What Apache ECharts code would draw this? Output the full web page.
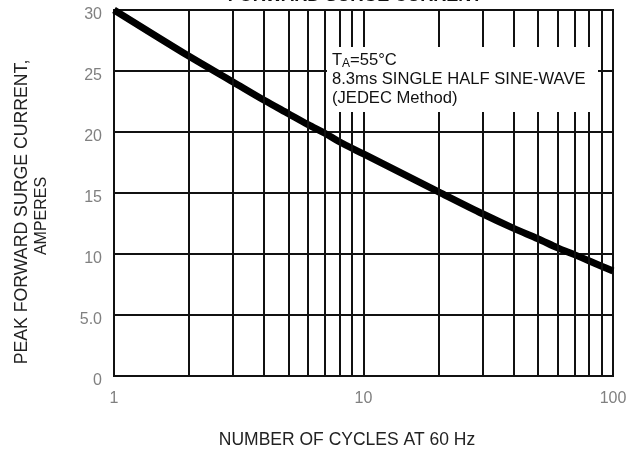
<!DOCTYPE html>
<html>
<head>
<meta charset="UTF-8">
<title>Forward Surge Current</title>
<script src="https://cdn.jsdelivr.net/npm/echarts@6/dist/echarts.min.js"></script>
<style>
  html, body { margin: 0; padding: 0; background: #fff; }
  #main { width: 632px; height: 454px; }
</style>
</head>
<body>
<div id="main"></div>
<script type="text/javascript">
    // cycles at 60 Hz and peak surge current (A)
    var cycles = [1, 2, 3, 4, 5, 6, 7, 8, 10, 20, 30, 40, 50, 60, 70, 80, 90, 100];
    var amps = [30, 26.2, 24.1, 22.6, 21.5, 20.6, 19.9, 19.2, 18.2, 15.1, 13.3, 12.1, 11.25, 10.5, 9.95, 9.45, 9.0, 8.6];
    // intermediate log grid lines
    var minorX = [2, 3, 4, 5, 6, 7, 8, 9, 20, 30, 40, 50, 60, 70, 80, 90];
    var yLabels = ['0', '5.0', '10', '15', '20', '25', '30'];

    var font = 'Liberation Sans, Arial, sans-serif';
    var gridColor = '#111';

    var myChart = echarts.init(document.getElementById('main'));

    var curve = [];
    for (var i = 0; i < cycles.length; i++) {
        curve.push([cycles[i], amps[i]]);
    }

    option = {
        animation: false,
        backgroundColor: '#fff',
        grid: {
            left: 114, right: 19, top: 10, bottom: 78,
            show: true, borderColor: gridColor, borderWidth: 2
        },
        xAxis: {
            type: 'log',
            logBase: 10,
            min: 1,
            max: 100,
            axisLine: { show: false },
            axisTick: { show: false },
            splitLine: { show: true, lineStyle: { color: gridColor, width: 2 } },
            axisLabel: {
                color: '#808080', fontSize: 16, fontFamily: font, margin: 15,
                formatter: function (v) { return String(Math.round(v)); }
            }
        },
        yAxis: {
            type: 'value',
            min: 0,
            max: 30,
            interval: 5,
            axisLine: { show: false },
            axisTick: { show: false },
            splitLine: { show: true, lineStyle: { color: gridColor, width: 2 } },
            axisLabel: {
                color: '#808080', fontSize: 16, fontFamily: font, margin: 12,
                formatter: function (v) { return '{a|' + yLabels[Math.round(v / 5)] + '}'; },
                rich: {
                    a: { color: '#808080', fontSize: 16, fontFamily: font, padding: [9, 0, 0, 0] }
                }
            }
        },
        graphic: [
            {
                type: 'text', z: 20,
                style: {
                    x: 355, y: 5, text: 'FORWARD SURGE CURRENT',
                    font: 'bold 18px ' + font, fill: '#111',
                    textAlign: 'center', textVerticalAlign: 'bottom'
                }
            },
            {
                type: 'rect', z: 10,
                shape: { x: 327, y: 47, width: 271, height: 65 },
                style: { fill: '#fff' }
            },
            {
                type: 'text', z: 11,
                style: { x: 332, y: 60, text: 'T', font: '16.6px ' + font, fill: '#111', textVerticalAlign: 'middle' }
            },
            {
                type: 'text', z: 11,
                style: { x: 342, y: 64, text: 'A', font: '12px ' + font, fill: '#111', textVerticalAlign: 'middle' }
            },
            {
                type: 'text', z: 11,
                style: { x: 350, y: 60, text: '=55°C', font: '16.6px ' + font, fill: '#111', textVerticalAlign: 'middle' }
            },
            {
                type: 'text', z: 11,
                style: { x: 332, y: 79, text: '8.3ms SINGLE HALF SINE-WAVE', font: '16.6px ' + font, fill: '#111', textVerticalAlign: 'middle' }
            },
            {
                type: 'text', z: 11,
                style: { x: 332, y: 98, text: '(JEDEC Method)', font: '16.6px ' + font, fill: '#111', textVerticalAlign: 'middle' }
            },
            {
                type: 'text', z: 11,
                x: 22, y: 212, rotation: Math.PI / 2,
                style: {
                    x: 0, y: 0, text: 'PEAK FORWARD SURGE CURRENT,', font: '17.7px ' + font, fill: '#222',
                    textAlign: 'center', textVerticalAlign: 'middle'
                }
            },
            {
                type: 'text', z: 11,
                x: 42, y: 216, rotation: Math.PI / 2,
                style: {
                    x: 0, y: 0, text: 'AMPERES', font: '16px ' + font, fill: '#222',
                    textAlign: 'center', textVerticalAlign: 'middle'
                }
            },
            {
                type: 'text', z: 11,
                style: {
                    x: 347, y: 440, text: 'NUMBER OF CYCLES AT 60 Hz', font: '17.5px ' + font, fill: '#222',
                    textAlign: 'center', textVerticalAlign: 'middle'
                }
            }
        ],
        series: [
            {
                type: 'line',
                z: 1,
                data: [],
                markLine: {
                    silent: true,
                    symbol: 'none',
                    label: { show: false },
                    lineStyle: { color: gridColor, width: 2, type: 'solid' },
                    emphasis: { disabled: true },
                    data: minorX.map(function (v) { return { xAxis: v }; })
                }
            },
            {
                type: 'line',
                z: 3,
                data: curve,
                smooth: 0.3,
                symbol: 'none',
                lineStyle: { color: '#000', width: 7 }
            }
        ]
    };
    myChart.setOption(option);
</script>
</body>
</html>
